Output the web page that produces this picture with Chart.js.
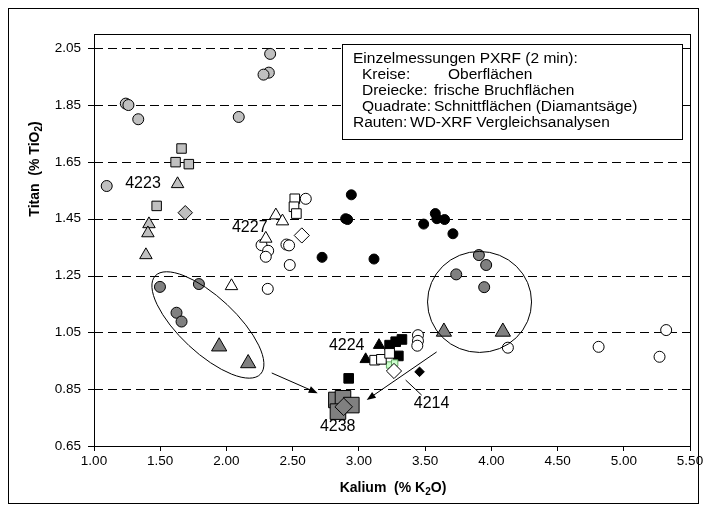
<!DOCTYPE html>
<html><head><meta charset="utf-8">
<script src="https://cdn.jsdelivr.net/npm/chart.js@4.4.0/dist/chart.umd.min.js"></script>
<style>html,body{margin:0;padding:0;background:#fff}</style>
</head><body>
<canvas id="c" width="706" height="512"></canvas>
<script>
// ---- tick labels ----
const xTicks = [1.00, 1.50, 2.00, 2.50, 3.00, 3.50, 4.00, 4.50, 5.00, 5.50];
const yTicks = [0.65, 0.85, 1.05, 1.25, 1.45, 1.65, 1.85, 2.05];

// ---- series (K2O %, TiO2 %) ----
const grayCircleK  = [2.33, 2.32, 2.28, 1.24, 1.26, 1.334, 2.093, 1.096];
const grayCircleTi = [2.03, 1.964, 1.957, 1.855, 1.85, 1.80, 1.808, 1.565];
const graySquareK  = [1.661, 1.616, 1.716, 1.473];
const graySquareTi = [1.697, 1.649, 1.642, 1.495];
const grayTriK  = [1.631, 1.415, 1.407, 1.392];
const grayTriTi = [1.572, 1.431, 1.399, 1.322];
const grayDiaK  = [1.689];
const grayDiaTi = [1.471];

const whiteCircleK  = [2.599, 2.265, 2.315, 2.297, 2.453, 2.473, 2.478, 2.312, 3.446, 3.446, 3.441, 4.125, 4.81, 5.32, 5.27];
const whiteCircleTi = [1.52, 1.357, 1.337, 1.316, 1.359, 1.356, 1.287, 1.203, 1.04, 1.02, 1.003, 0.996, 0.999, 1.058, 0.964];
const whiteTriK  = [2.373, 2.423, 2.297, 2.038];
const whiteTriTi = [1.462, 1.441, 1.38, 1.213];
const whiteSquareK  = [2.516, 2.51, 2.528, 3.119, 3.17, 3.232];
const whiteSquareTi = [1.52, 1.492, 1.468, 0.952, 0.955, 0.976];
const whiteDiaK  = [2.569, 3.265];
const whiteDiaTi = [1.391, 0.914];

const blackCircleK  = [2.943, 2.90, 2.915, 2.722, 3.114, 3.577, 3.589, 3.647, 3.489, 3.71];
const blackCircleTi = [1.534, 1.45, 1.447, 1.314, 1.308, 1.468, 1.45, 1.447, 1.431, 1.397];
const blackSquareK  = [3.325, 3.278, 3.232, 3.298, 2.923];
const blackSquareTi = [1.025, 1.017, 1.005, 0.967, 0.888];
const blackTriK  = [3.152, 3.051];
const blackTriTi = [1.005, 0.955];
const blackDiaK  = [3.458];
const blackDiaTi = [0.911];

const darkCircleK  = [1.498, 1.792, 1.623, 1.661, 3.906, 3.961, 3.735, 3.946];
const darkCircleTi = [1.21, 1.22, 1.119, 1.088, 1.322, 1.287, 1.254, 1.209];
const darkTriK  = [1.945, 2.164, 3.642, 4.087];
const darkTriTi = [1.00, 0.941, 1.052, 1.052];
const darkSquareK  = [2.830, 2.880, 2.943, 2.842];
const darkSquareTi = [0.812, 0.818, 0.794, 0.771];
const darkDiaK  = [2.885];
const darkDiaTi = [0.788];

const greenSquareK  = [3.232, 3.27];
const greenSquareTi = [0.935, 0.942];

// ---- sample labels (data coords) ----
const sampleLabels = ['4223', '4227', '4224', '4214', '4238'];
const sampleLabelK  = [1.370, 2.176, 2.908, 3.549, 2.840];
const sampleLabelTi = [1.575, 1.417, 1.002, 0.798, 0.717];

// ---- legend text ----
const legendLines = [
  ['Einzelmessungen PXRF (2 min):', ''],
  ['Kreise:', 'Oberflächen'],
  ['Dreiecke:', 'frische Bruchflächen'],
  ['Quadrate:', 'Schnittflächen (Diamantsäge)'],
  ['Rauten:', 'WD-XRF Vergleichsanalysen']
];

const FONT = '"Liberation Sans", Arial, sans-serif';

function pts(K, T) { return K.map((k, i) => ({x: k, y: T[i]})); }
function ds(label, K, T, style, fill, r, border) {
  return {label, data: pts(K, T), pointStyle: style, backgroundColor: fill,
    borderColor: border || '#000', borderWidth: 1, pointRadius: r, pointHoverRadius: r, showLine: false};
}

const datasets = [
  ds('grayCircle', grayCircleK, grayCircleTi, 'circle', '#c0c0c0', 5.5),
  ds('graySquare', graySquareK, graySquareTi, 'rect', '#c0c0c0', 6.7),
  ds('grayTri', grayTriK, grayTriTi, 'triangle', '#c0c0c0', 7.2),
  ds('grayDia', grayDiaK, grayDiaTi, 'rectRot', '#c0c0c0', 7.2),
  ds('whiteCircle', whiteCircleK, whiteCircleTi, 'circle', '#ffffff', 5.5),
  ds('blackCircle', blackCircleK, blackCircleTi, 'circle', '#000000', 5),
  ds('darkCircle', darkCircleK, darkCircleTi, 'circle', '#808080', 5.5),
  ds('blackSquare', blackSquareK, blackSquareTi, 'rect', '#000000', 6.8),
  ds('blackTri', blackTriK, blackTriTi, 'triangle', '#000000', 6.5),
  ds('greenSquare', greenSquareK, greenSquareTi, 'rect', '#ccffcc', 4.5, '#66aa66'),
  ds('whiteSquare', whiteSquareK, whiteSquareTi, 'rect', '#ffffff', 6.8),
  ds('whiteTri', whiteTriK, whiteTriTi, 'triangle', '#ffffff', 7.2),
  ds('whiteDia', whiteDiaK, whiteDiaTi, 'rectRot', '#ffffff', 7.6),
  ds('blackDia', blackDiaK, blackDiaTi, 'rectRot', '#000000', 4.8),
  ds('darkTri', darkTriK, darkTriTi, 'triangle', '#808080', 8.8),
  ds('darkSquare', darkSquareK, darkSquareTi, 'rect', '#808080', 11),
  ds('darkDia', darkDiaK, darkDiaTi, 'rectRot', '#808080', 8.8)
];
datasets.forEach((d, i) => { d.order = datasets.length - i; });

// ---- annotation geometry (data-coord anchors) ----
const ellipseLeft  = {k: 1.860, ti: 1.076, rx: 72, ry: 28, rot: 43};
const ellipseRight = {k: 3.911, ti: 1.157, rx: 52, ry: 50.5, rot: 0};
const arrows = [
  {k1: 2.342, t1: 0.907, k2: 2.689, t2: 0.836, head: true},
  {k1: 3.587, t1: 0.981, k2: 3.059, t2: 0.812, head: true},
  {k1: 3.353, t1: 0.882, k2: 3.474, t2: 0.829, head: false}
];

function drawSub(ctx, parts, size) {
  let total = 0;
  const subSize = Math.round(size * 0.68);
  parts.forEach(p => {
    ctx.font = 'bold ' + (p[1] ? subSize : size) + 'px ' + FONT;
    total += ctx.measureText(p[0]).width;
  });
  let x = -total / 2;
  parts.forEach(p => {
    ctx.font = 'bold ' + (p[1] ? subSize : size) + 'px ' + FONT;
    ctx.fillText(p[0], x, p[1] ? 4 : 0);
    x += ctx.measureText(p[0]).width;
  });
}

const decor = {
  id: 'decor',
  beforeDatasetsDraw(chart) {
    const {ctx, chartArea: a, scales: {y}} = chart;
    ctx.save();
    ctx.strokeStyle = '#000';
    ctx.lineWidth = 1;
    ctx.setLineDash([9, 5]);
    yTicks.forEach(v => {
      if (v === yTicks[0]) return;
      const py = Math.round(y.getPixelForValue(v)) + 0.5;
      ctx.beginPath(); ctx.moveTo(a.left, py); ctx.lineTo(a.right, py); ctx.stroke();
    });
    ctx.setLineDash([]);
    yTicks.forEach(v => {
      const py = Math.round(y.getPixelForValue(v)) + 0.5;
      ctx.beginPath(); ctx.moveTo(a.left - 6, py); ctx.lineTo(a.left + 6, py); ctx.stroke();
    });
    ctx.strokeRect(Math.round(a.left) + 0.5, Math.round(a.top) + 0.5, Math.round(a.right - a.left), Math.round(a.bottom - a.top));
    ctx.restore();
  },
  afterDatasetsDraw(chart) {
    const {ctx, scales: {x, y}} = chart;
    ctx.save();
    ctx.strokeStyle = '#000';
    ctx.fillStyle = '#000';
    ctx.lineWidth = 1;
    [ellipseLeft, ellipseRight].forEach(e => {
      ctx.beginPath();
      ctx.ellipse(x.getPixelForValue(e.k), y.getPixelForValue(e.ti), e.rx, e.ry, e.rot * Math.PI / 180, 0, Math.PI * 2);
      ctx.stroke();
    });
    arrows.forEach(ar => {
      const x1 = x.getPixelForValue(ar.k1), y1 = y.getPixelForValue(ar.t1);
      const x2 = x.getPixelForValue(ar.k2), y2 = y.getPixelForValue(ar.t2);
      const ang = Math.atan2(y2 - y1, x2 - x1);
      const hl = ar.head ? 9 : 0;
      ctx.beginPath(); ctx.moveTo(x1, y1);
      ctx.lineTo(x2 - Math.cos(ang) * hl * 0.8, y2 - Math.sin(ang) * hl * 0.8); ctx.stroke();
      if (ar.head) {
        ctx.beginPath();
        ctx.moveTo(x2, y2);
        ctx.lineTo(x2 - hl * Math.cos(ang) + 3.5 * Math.sin(ang), y2 - hl * Math.sin(ang) - 3.5 * Math.cos(ang));
        ctx.lineTo(x2 - hl * Math.cos(ang) - 3.5 * Math.sin(ang), y2 - hl * Math.sin(ang) + 3.5 * Math.cos(ang));
        ctx.closePath(); ctx.fill();
      }
    });
    ctx.font = '16px ' + FONT;
    ctx.textAlign = 'center';
    ctx.textBaseline = 'middle';
    sampleLabels.forEach((t, i) => {
      ctx.fillText(t, x.getPixelForValue(sampleLabelK[i]), y.getPixelForValue(sampleLabelTi[i]));
    });
    // legend box
    const bx = 342, by = 44, bw = 340, bh = 95;
    ctx.fillStyle = '#fff';
    ctx.fillRect(bx, by, bw, bh);
    ctx.strokeRect(bx + 0.5, by + 0.5, bw, bh);
    ctx.fillStyle = '#000';
    ctx.textAlign = 'left';
    ctx.font = '15.5px ' + FONT;
    const c1 = [353, 362, 362, 362, 353];
    const c2 = [0, 448, 434, 434, 410];
    legendLines.forEach((l, i) => {
      const ly = 59 + i * 16;
      ctx.fillText(l[0], c1[i], ly);
      if (l[1]) ctx.fillText(l[1], c2[i], ly);
    });
    ctx.restore();
  },
  afterDraw(chart) {
    const {ctx} = chart;
    ctx.save();
    ctx.fillStyle = '#000';
    ctx.textBaseline = 'middle';
    ctx.textAlign = 'left';
    ctx.save();
    ctx.translate(35, 169);
    ctx.rotate(-Math.PI / 2);
    drawSub(ctx, [['Titan  (% TiO', false], ['2', true], [')', false]], 14);
    ctx.restore();
    ctx.save();
    ctx.translate(393, 488);
    drawSub(ctx, [['Kalium  (% K', false], ['2', true], ['O)', false]], 14);
    ctx.restore();
    ctx.strokeStyle = '#000';
    ctx.lineWidth = 1;
    ctx.strokeRect(8.5, 8.5, 690, 495);
    ctx.restore();
  }
};

new Chart(document.getElementById('c'), {
  type: 'scatter',
  data: {datasets},
  options: {
    responsive: false,
    animation: false,
    devicePixelRatio: 1,
    layout: {padding: {left: 0, top: 34, right: 16, bottom: 0}},
    plugins: {legend: {display: false}, tooltip: {enabled: false}},
    scales: {
      x: {
        type: 'linear', min: 1, max: 5.5,
        afterBuildTicks: s => { s.ticks = xTicks.map(v => ({value: v})); },
        afterFit: s => { s.height = 66; },
        grid: {drawOnChartArea: false, drawTicks: true, tickLength: 5, color: '#000', lineWidth: 1},
        border: {display: true, color: '#000', width: 1},
        ticks: {font: {family: FONT, size: 13.5}, color: '#000', padding: 2, maxRotation: 0, autoSkip: false,
          callback: v => Number(v).toFixed(2)}
      },
      y: {
        type: 'linear', min: 0.65, max: 2.10,
        afterBuildTicks: s => { s.ticks = yTicks.map(v => ({value: v})); },
        afterFit: s => { s.width = 94; },
        grid: {drawOnChartArea: false, drawTicks: false},
        border: {display: true, color: '#000', width: 1},
        ticks: {font: {family: FONT, size: 13.5}, color: '#000', padding: 13, autoSkip: false,
          callback: v => Number(v).toFixed(2)}
      }
    }
  },
  plugins: [decor]
});
</script>
</body></html>
